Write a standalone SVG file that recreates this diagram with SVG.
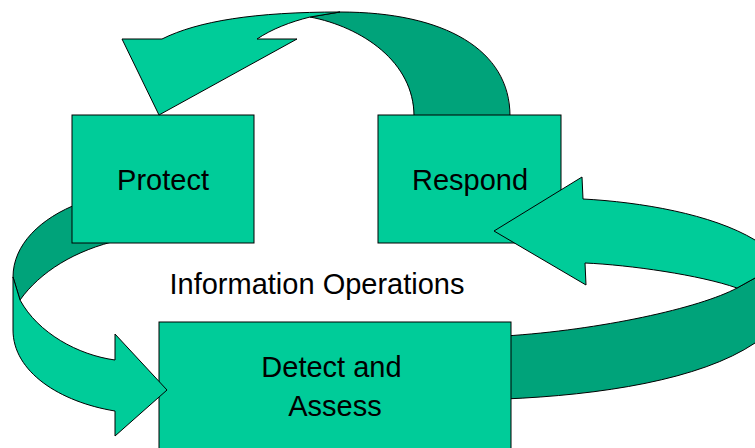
<svg xmlns="http://www.w3.org/2000/svg" width="755" height="448" viewBox="0 0 755 448">
<style>
.light{fill:#00CC99;stroke:#000;stroke-width:1}
.dark{fill:#00A37A;stroke:#000;stroke-width:1}
.box{fill:#00CC99;stroke:#000;stroke-width:1}
.t{font-family:"Liberation Sans",Arial,sans-serif;font-size:29px;fill:#000;text-anchor:middle}
</style>
<rect width="755" height="448" fill="#fff"/>
<g id="connectors-back">
<path class="dark" d="M414,116 C414,62 362,27 310,17 L340,12 C445,12 510,50 510,116 Z"/>
<path class="dark" d="M737,288 L755,278 L800,250 L800,330 L755,343 C700,380 600,395 505,399 L505,336 C600,330 700,308 737,288 Z"/>
<path class="dark" d="M80,230 L80,203 C40,218 13,245 13,277 L20,300 C40,272 75,250 120,240 Z"/>
</g>
<g id="protect">
<rect class="box" x="72" y="115" width="182" height="128"/>
<text class="t" x="163" y="190">Protect</text>
</g>
<g id="respond">
<rect class="box" x="378" y="115" width="183" height="128"/>
<text class="t" x="470" y="190">Respond</text>
</g>
<g id="detect">
<rect class="box" x="159" y="322" width="352" height="140"/>
<text class="t" x="331.5" y="377">Detect and</text>
<text class="t" x="335" y="416">Assess</text>
</g>
<g id="label">
<text class="t" x="317" y="294">Information Operations</text>
</g>
<g id="connectors">
<path class="light" d="M340,12 C255,12 198,21 162,39 L122,39 L159,115 L297,39 L257,39 C272,29 290,22 310,17 Z"/>
<path class="light" d="M583,199 C640,202 712,214 755,240 L800,262 L755,278 L737,288 C700,275 630,265 585,263 L586,285 L494,231 L582,177 Z"/>
<path class="light" d="M13,277 L20,300 C38,333 78,355 115,360 L115,334 L167,390 L115,436 L115,411 C60,402 13,372 13,330 Z"/>
</g>
</svg>
